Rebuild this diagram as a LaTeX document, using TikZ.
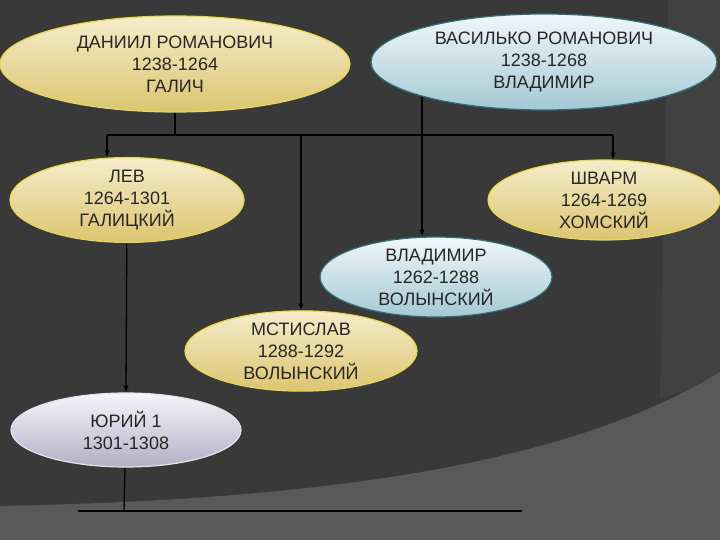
\documentclass[tikz,border=0pt]{standalone}
\usepackage{fontspec}
\setmainfont{Liberation Sans}
\usetikzlibrary{shapes.geometric,arrows,backgrounds}
\definecolor{slate}{HTML}{393939}
\definecolor{slateband}{HTML}{414141}
\definecolor{floor}{HTML}{595959}
\definecolor{goldtop}{HTML}{F5EDCB}
\definecolor{goldbot}{HTML}{DCC470}
\definecolor{goldrim}{HTML}{E8D84C}
\definecolor{icetop}{HTML}{F1F7F9}
\definecolor{icebot}{HTML}{A3C9D4}
\definecolor{icerim}{HTML}{2F6E78}
\definecolor{liltop}{HTML}{F6F5FA}
\definecolor{lilbot}{HTML}{B3AFC6}
\definecolor{lilrim}{HTML}{E4E2EE}

\begin{document}
\begin{tikzpicture}[x=1pt,y=-1pt,
    prince/.style={ellipse,inner sep=0pt,align=center,line width=1.2pt,
      font=\fontsize{18}{22}\selectfont,text=black!85},
    galich/.style={prince,draw=goldrim,top color=goldtop,bottom color=goldbot},
    volyn/.style={prince,draw=icerim,top color=icetop,bottom color=icebot},
    yuri/.style={prince,draw=lilrim,top color=liltop,bottom color=lilbot},
    kin/.style={line width=1.3pt,black}]
  \useasboundingbox (0,0) rectangle (720,540);

  \node (dan) [galich,minimum width=350pt,minimum height=96pt] at (175,64)
    {ДАНИИЛ РОМАНОВИЧ\\1238-1264\\ГАЛИЧ};
  \node (vas) [volyn,minimum width=346pt,minimum height=96pt] at (544,62)
    {ВАСИЛЬКО РОМАНОВИЧ\\1238-1268\\ВЛАДИМИР};
  \node (lev) [galich,minimum width=234pt,minimum height=76pt] at (127,200)
    {ЛЕВ\\1264-1301\\ГАЛИЦКИЙ};
  \node (shv) [galich,minimum width=232pt,minimum height=76pt] at (604,200)
    {ШВАРМ\\1264-1269\\ХОМСКИЙ};
  \node (vla) [volyn,minimum width=232pt,minimum height=76pt] at (436,277)
    {ВЛАДИМИР\\1262-1288\\ВОЛЫНСКИЙ};
  \node (mst) [galich,minimum width=232pt,minimum height=74pt] at (301,351)
    {МСТИСЛАВ\\1288-1292\\ВОЛЫНСКИЙ};
  \node (yur) [yuri,minimum width=230pt,minimum height=74pt] at (126,430)
    {ЮРИЙ 1\\1301-1308};

  \coordinate (busL) at (107,135);
  \coordinate (busR) at (613,135);
  \coordinate (vdrop) at (422,90);
  \coordinate (base) at (124,511);
  \coordinate (baseL) at (78,511);
  \coordinate (baseR) at (522,511);

  \begin{pgfonlayer}{background}
    % backdrop
    \fill[slate] (0,0) rectangle (720,540);
    \fill[slateband] (668,0) -- (720,0) -- (720,380) -- (660,398) -- cycle;
    \fill[floor] (0,506) .. controls (300,500) and (560,470) .. (720,372)
      -- (720,540) -- (0,540) -- cycle;

    % family lines
    \draw[kin] (dan) -- (dan |- busL);
    \draw[kin] (busL) -- (busR);
    \draw[kin,-latex] (busL) -- (busL |- lev.north);
    \draw[kin,-latex] (busR) -- (busR |- shv.north);
    \draw[kin,-latex] (mst.north |- busL) -- (mst.north);
    \draw[kin,-latex] (vdrop) -- (vdrop |- vla.north);
    \draw[kin,-latex] (lev) -- (yur.north);
    \draw[kin] (yur) -- (base);
    \draw[kin] (baseL) -- (baseR);
  \end{pgfonlayer}
\end{tikzpicture}
\end{document}
